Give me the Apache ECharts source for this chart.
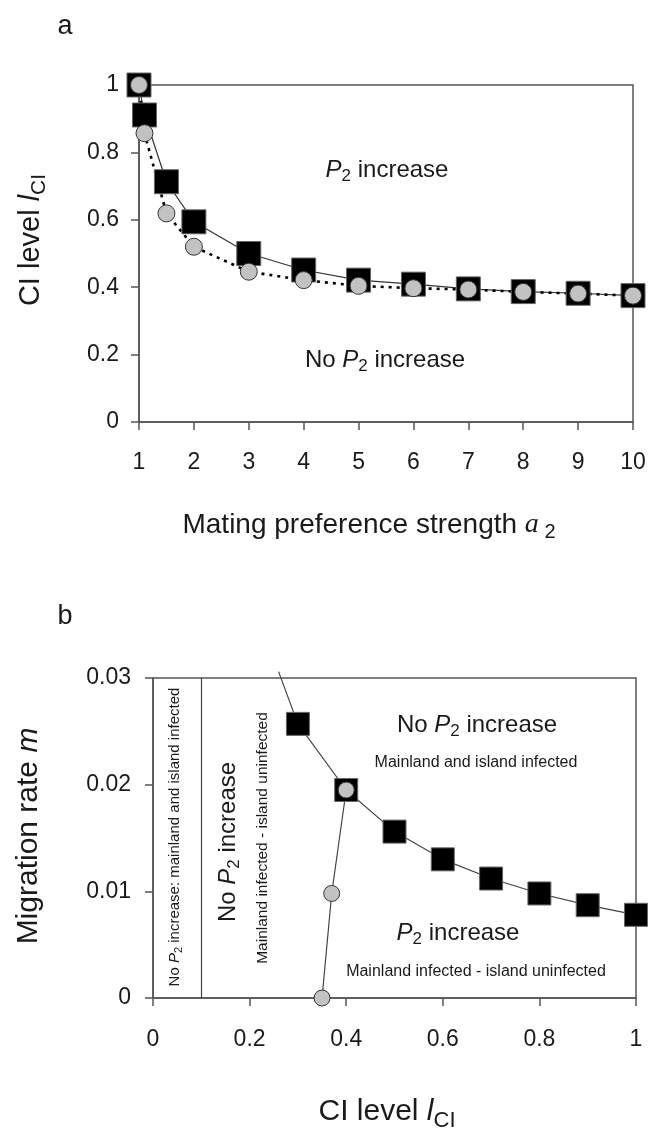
<!DOCTYPE html>
<html>
<head>
<meta charset="utf-8">
<script src="https://cdn.jsdelivr.net/npm/echarts@6/dist/echarts.min.js"></script>
<style>
  html, body { margin: 0; padding: 0; background: #fff; }
  #chart { width: 653px; height: 1134px; }
</style>
</head>
<body>
<div id="chart"></div>
<script>
// panel a: threshold CI level against mating preference strength
var prefStrength = [1, 1.1, 1.5, 2, 3, 4, 5, 6, 7, 8, 9, 10];
var levelSquares = [1.0, 0.911, 0.713, 0.594, 0.50, 0.451, 0.421, 0.409, 0.395, 0.387, 0.382, 0.375];
var levelCircles = [1.0, 0.857, 0.619, 0.52, 0.446, 0.421, 0.404, 0.397, 0.393, 0.386, 0.381, 0.375];

// panel b: migration rate against CI level
var ciSquares = [0.26, 0.3, 0.4, 0.5, 0.6, 0.7, 0.8, 0.9, 1.0];
var migSquares = [0.0306, 0.0257, 0.0195, 0.0156, 0.013, 0.0112, 0.0098, 0.0087, 0.0078];
var ciCircles = [0.35, 0.37, 0.4];
var migCircles = [0, 0.0098, 0.0195];
var ciBoundary = 0.1;

var FONT = 'Liberation Sans';
var AXIS = '#555';
var TXT = '#1a1a1a';

function pairs(xs, ys) {
  return xs.map(function (x, i) { return [x, ys[i]]; });
}

function axisBase(extra) {
  var base = {
    type: 'value',
    axisLine: { show: true, lineStyle: { color: AXIS, width: 1.5 } },
    axisTick: { show: true, length: 8, lineStyle: { color: AXIS, width: 1.5 } },
    splitLine: { show: false }
  };
  return Object.assign(base, extra);
}

function tickLabel(margin) {
  return { fontFamily: FONT, fontSize: 23, color: TXT, margin: margin };
}

// rich styles for italic letters and lowered subscripts
function richSet(size) {
  var lh = size + 2;
  var sub = Math.round(size * 0.72);
  return {
    n: { fontFamily: FONT, fontSize: size, color: TXT, lineHeight: lh },
    i: { fontFamily: FONT, fontStyle: 'italic', fontSize: size, color: TXT, lineHeight: lh },
    t: { fontFamily: 'Liberation Serif', fontStyle: 'italic', fontSize: size, color: TXT, lineHeight: lh },
    // top padding pushes the glyphs down by half its amount
    s: { fontFamily: FONT, fontSize: sub, color: TXT, lineHeight: sub,
         padding: [Math.round(size * 0.55), 0, 0, 0] }
  };
}

function label(text, x, y, size, rot) {
  return {
    type: 'text',
    x: x, y: y,
    rotation: rot ? Math.PI / 2 : 0,
    style: {
      text: text,
      rich: richSet(size),
      fontFamily: FONT, fontSize: size, fill: TXT,
      align: 'center', verticalAlign: 'middle'
    }
  };
}

var squaresA = pairs(prefStrength, levelSquares);
var circlesA = pairs(prefStrength, levelCircles);
var squaresB = pairs(ciSquares, migSquares).map(function (p, i) {
  // the first point only continues the line past the frame
  return i === 0 ? { value: p, symbol: 'none' } : p;
});
var circlesB = pairs(ciCircles, migCircles);

var chart = echarts.init(document.getElementById('chart'), null, { renderer: 'canvas' });

chart.setOption({
  backgroundColor: '#fff',
  animation: false,
  grid: [
    { left: 139, top: 85, width: 494, height: 337, show: true, borderColor: AXIS, borderWidth: 1.5 },
    { left: 153, top: 678, width: 483, height: 320, show: true, borderColor: AXIS, borderWidth: 1.5 }
  ],
  xAxis: [
    axisBase({ gridIndex: 0, min: 1, max: 10, interval: 1, axisLabel: tickLabel(29) }),
    axisBase({ gridIndex: 1, min: 0, max: 1, interval: 0.2, axisLabel: tickLabel(30) })
  ],
  yAxis: [
    axisBase({ gridIndex: 0, min: 0, max: 1, interval: 0.2, axisLabel: tickLabel(20) }),
    axisBase({ gridIndex: 1, min: 0, max: 0.03, interval: 0.01, axisLabel: tickLabel(22) })
  ],
  series: [
    {
      type: 'line', xAxisIndex: 0, yAxisIndex: 0, clip: false,
      data: squaresA,
      symbol: 'rect', symbolSize: 24,
      itemStyle: { color: '#000', borderColor: '#666', borderWidth: 1 },
      lineStyle: { color: '#333', width: 1.2 }
    },
    {
      type: 'line', xAxisIndex: 0, yAxisIndex: 0, clip: false,
      data: circlesA,
      symbol: 'circle', symbolSize: 17,
      itemStyle: { color: '#c2c2c2', borderColor: '#333', borderWidth: 1 },
      lineStyle: { color: '#000', width: 2.6, type: [3, 5] }
    },
    {
      type: 'line', xAxisIndex: 1, yAxisIndex: 1, clip: false,
      data: squaresB,
      symbol: 'rect', symbolSize: 23,
      itemStyle: { color: '#000', borderColor: '#666', borderWidth: 1 },
      lineStyle: { color: '#444', width: 1.2 },
      markLine: {
        silent: true, symbol: 'none', label: { show: false },
        lineStyle: { color: '#444', width: 1.2, type: 'solid' },
        data: [{ xAxis: ciBoundary }]
      }
    },
    {
      type: 'line', xAxisIndex: 1, yAxisIndex: 1, clip: false,
      data: circlesB,
      symbol: 'circle', symbolSize: 16,
      itemStyle: { color: '#c2c2c2', borderColor: '#333', borderWidth: 1 },
      lineStyle: { color: '#444', width: 1.2 }
    }
  ],
  graphic: [
    label('{n|a}', 65, 27, 27),
    label('{n|CI level }{i|l}{s|CI}', 31, 240, 29, true),
    label('{n|Mating preference strength }{t|a}{s| 2}', 369, 525, 28),
    label('{i|P}{s|2}{n| increase}', 387, 170, 24),
    label('{n|No }{i|P}{s|2}{n| increase}', 385, 360, 24),

    label('{n|b}', 65, 617, 27),
    label('{n|Migration rate }{i|m}', 29, 836, 30, true),
    label('{n|CI level }{i|l}{s|CI}', 387, 1112, 30),
    label('{n|No }{i|P}{s|2}{n| increase}', 477, 725, 24),
    label('{n|Mainland and island infected}', 476, 763, 16),
    label('{i|P}{s|2}{n| increase}', 458, 933, 24),
    label('{n|Mainland infected - island uninfected}', 476, 972, 16),
    label('{n|No }{i|P}{s|2}{n| increase: mainland and island infected}', 175, 837, 15, true),
    label('{n|No }{i|P}{s|2}{n| increase}', 228, 842, 24, true),
    label('{n|Mainland infected - island uninfected}', 263, 838, 15.5, true)
  ]
});
</script>
</body>
</html>
